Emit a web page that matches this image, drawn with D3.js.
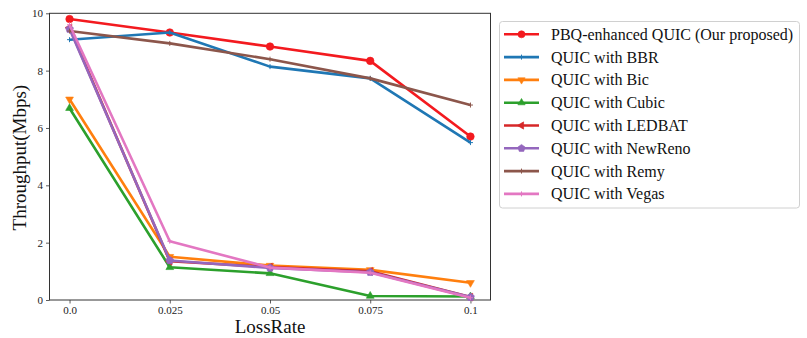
<!DOCTYPE html>
<html><head><meta charset="utf-8">
<script src="https://cdn.jsdelivr.net/npm/d3@7"></script>
<style>html,body{margin:0;padding:0;background:#fff;}svg{display:block;font-family:"Liberation Serif","Times New Roman",serif;}</style>
</head><body><svg id="c" width="807" height="338"></svg>
<script>
const lossRates = [0.0, 0.025, 0.05, 0.075, 0.1];
const xTickLabels = ["0.0", "0.025", "0.05", "0.075", "0.1"];
const yTicks = [0, 2, 4, 6, 8, 10];
const seriesNames = ["PBQ-enhanced QUIC (Our proposed)", "QUIC with BBR", "QUIC with Bic", "QUIC with Cubic", "QUIC with LEDBAT", "QUIC with NewReno", "QUIC with Remy", "QUIC with Vegas"];
const pbq     = [9.80, 9.33, 8.84, 8.34, 5.70];
const bbr     = [9.08, 9.33, 8.14, 7.73, 5.49];
const bic     = [7.00, 1.51, 1.20, 1.05, 0.60];
const cubic   = [6.69, 1.14, 0.93, 0.14, 0.12];
const ledbat  = [9.50, 1.35, 1.15, 1.00, 0.10];
const newreno = [9.45, 1.38, 1.12, 0.97, 0.10];
const remy    = [9.38, 8.95, 8.40, 7.73, 6.80];
const vegas   = [9.60, 2.05, 1.13, 0.95, 0.08];
const seriesValues = [pbq, bbr, bic, cubic, ledbat, newreno, remy, vegas];
const colors = ["#f31a1f", "#1f77b4", "#ff7f0e", "#2ca02c", "#d62728", "#9467bd", "#8c564b", "#e377c2"];
const markers = ["circle", "plus", "down", "up", "left", "pentagon", "plus", "plus"];

const svg = d3.select("#c");
const L = 49.5, R = 490.5, T = 13.3, B = 300;
const x = d3.scaleLinear().domain([-0.005, 0.105]).range([L, R]);
const y = d3.scaleLinear().domain([0, 10]).range([B, T]);

const xAxis = d3.axisBottom(x).tickValues(lossRates).tickFormat((d, i) => xTickLabels[i]).tickSize(3.5).tickPadding(3);
const yAxis = d3.axisLeft(y).tickValues(yTicks).tickSize(3.5).tickPadding(3);
const gx = svg.append("g").attr("transform", `translate(0,${B})`).call(xAxis);
const gy = svg.append("g").attr("transform", `translate(${L},0)`).call(yAxis);
[gx, gy].forEach(g => {
  g.select(".domain").remove();
  g.selectAll("text").attr("font-family", "Liberation Serif, serif").attr("font-size", 11).attr("fill", "#222");
  g.selectAll("line").attr("stroke", "#333").attr("stroke-width", 0.8);
});
svg.append("rect").attr("x", L).attr("y", T).attr("width", R - L).attr("height", B - T)
  .attr("fill", "none").attr("stroke", "#333").attr("stroke-width", 1);

function markerPath(kind, s) {
  if (kind === "circle") return d3.symbol(d3.symbolCircle, s * s * 0.8)();
  if (kind === "plus") return `M${-s/2},0H${s/2}M0,${-s/2}V${s/2}`;
  const tri = (ang) => {
    const pts = [0, 1, 2].map(k => {
      const a = ang + k * 2 * Math.PI / 3;
      return [Math.cos(a) * s * 0.6, Math.sin(a) * s * 0.6];
    });
    return "M" + pts.map(p => p.join(",")).join("L") + "Z";
  };
  if (kind === "up") return tri(-Math.PI / 2);
  if (kind === "down") return tri(Math.PI / 2);
  if (kind === "left") return tri(Math.PI);
  if (kind === "pentagon") {
    const pts = d3.range(5).map(k => {
      const a = -Math.PI / 2 + k * 2 * Math.PI / 5;
      return [Math.cos(a) * s * 0.55, Math.sin(a) * s * 0.55];
    });
    return "M" + pts.map(p => p.join(",")).join("L") + "Z";
  }
}

const line = d3.line().x((d, i) => x(lossRates[i])).y(d => y(d));
const plot = svg.append("g");
seriesValues.forEach((vals, si) => {
  const g = plot.append("g");
  g.append("path").attr("d", line(vals)).attr("fill", "none")
    .attr("stroke", colors[si]).attr("stroke-width", 2.6).attr("stroke-linejoin", "round");
  vals.forEach((v, i) => {
    const m = markers[si];
    g.append("path").attr("d", markerPath(m, m === "plus" ? 5 : 7.5))
      .attr("transform", `translate(${x(lossRates[i])},${y(v)})`)
      .attr("fill", m === "plus" ? "none" : colors[si])
      .attr("stroke", colors[si]).attr("stroke-width", m === "plus" ? 1 : 0.6);
  });
});

svg.append("text").attr("x", (L + R) / 2).attr("y", 333).attr("text-anchor", "middle")
  .attr("font-size", 19).attr("fill", "#111").text("LossRate");
svg.append("text").attr("transform", `translate(26,${(T + B) / 2 + 1}) rotate(-90)`).attr("text-anchor", "middle")
  .attr("font-size", 19).attr("fill", "#111").text("Throughput(Mbps)");

const lg = svg.append("g");
lg.append("rect").attr("x", 499.5).attr("y", 21.5).attr("width", 300).attr("height", 186.5)
  .attr("rx", 3).attr("fill", "#fff").attr("stroke", "#d0d0d0").attr("stroke-width", 1);
seriesNames.forEach((name, si) => {
  const cy = 34.3 + si * 22.8;
  lg.append("line").attr("x1", 504).attr("x2", 539).attr("y1", cy).attr("y2", cy)
    .attr("stroke", colors[si]).attr("stroke-width", 2.6);
  const m = markers[si];
  lg.append("path").attr("d", markerPath(m, m === "plus" ? 5 : 7))
    .attr("transform", `translate(521.5,${cy})`)
    .attr("fill", m === "plus" ? "none" : colors[si])
    .attr("stroke", colors[si]).attr("stroke-width", m === "plus" ? 1 : 0.6);
  lg.append("text").attr("x", 551).attr("y", cy + 5.5).attr("font-size", 16).attr("fill", "#111").text(name);
});
</script></body></html>
